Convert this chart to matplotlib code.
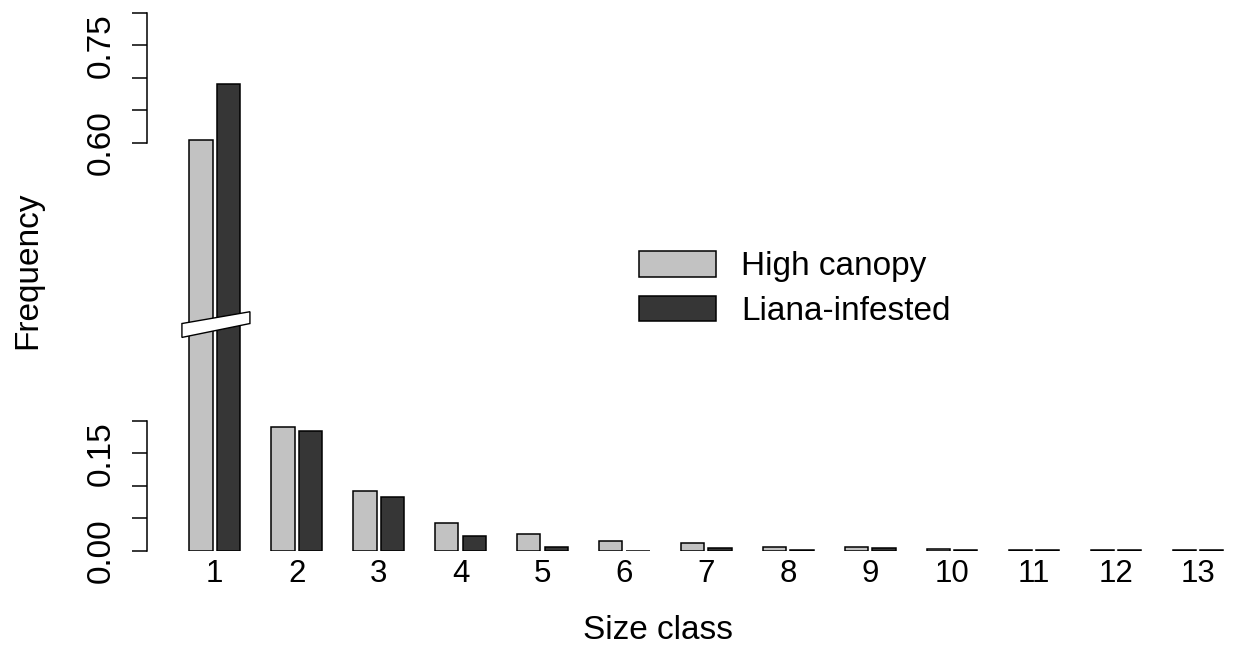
import numpy as np
import matplotlib
matplotlib.use("Agg")
import matplotlib.pyplot as plt
from matplotlib.patches import Polygon

plt.rcParams['font.family'] = ['Liberation Sans', 'DejaVu Sans']

# Datos
size_class = np.arange(1, 14)
high_canopy = [0.604, 0.190, 0.0925, 0.0425, 0.0256, 0.0153, 0.0127, 0.0066, 0.0066, 0.0035, 0.0008, 0.0008, 0.0008]
liana = [0.691, 0.1845, 0.083, 0.0235, 0.006, 0.0005, 0.004, 0.0008, 0.004, 0.001, 0.0008, 0.0008, 0.0008]
yticks_low = [0.0, 0.05, 0.10, 0.15, 0.20]
yticks_high = [0.60, 0.65, 0.70, 0.75, 0.80]
ylabels_shown = {0.0: "0.00", 0.15: "0.15", 0.60: "0.60", 0.75: "0.75"}

# Corte del eje (gap entre 0.2 y 0.6)
lo, hi, gap_disp = 0.2, 0.6, 0.4268


def fwd(v):
    v = np.asarray(v, dtype=float)
    return np.where(v <= lo, v,
                    np.where(v >= hi, v - hi + lo + gap_disp,
                             lo + (v - lo) * gap_disp / (hi - lo)))


def inv(d):
    d = np.asarray(d, dtype=float)
    return np.where(d <= lo, d,
                    np.where(d >= lo + gap_disp, d - lo - gap_disp + hi,
                             lo + (d - lo) * (hi - lo) / gap_disp))


W, H = 1235, 648
fig = plt.figure(figsize=(W / 100, H / 100), dpi=100)
left_px, right_px, top_px, bot_px = 147.3, 1232, 12.7, 551
ax = fig.add_axes([left_px / W, 1 - bot_px / H, (right_px - left_px) / W, (bot_px - top_px) / H])
ax.set_yscale('function', functions=(fwd, inv))

width = 0.284
off = 0.167
b1 = ax.bar(size_class - off, high_canopy, width, color='#c2c2c2', edgecolor='black', linewidth=1.1,
            label='High canopy', zorder=2)
b2 = ax.bar(size_class + off, liana, width, color='#363636', edgecolor='black', linewidth=1.1,
            label='Liana-infested', zorder=2)

ax.set_xlim(1 - (214.7 - left_px) / 81.94, 1 + (right_px - 214.7) / 81.94)
ax.set_ylim(0, 0.8)

# Eje y partido
ticks = yticks_low + yticks_high
ax.set_yticks(ticks)
ax.set_yticklabels([ylabels_shown.get(round(t, 2), "") for t in ticks], rotation=90, va='center')
ax.tick_params(axis='y', length=10.8, width=1.1, pad=11, labelsize=24)
ax.set_xticks(size_class)
ax.tick_params(axis='x', length=0, pad=6, labelsize=22.5)

for s in ['top', 'right', 'bottom']:
    ax.spines[s].set_visible(False)
ax.spines['left'].set_bounds(0, 0.2)
ax.spines['left'].set_linewidth(1.1)
ax.plot([0, 0], [hi, 0.8], color='black', linewidth=1.1, transform=ax.get_yaxis_transform(),
        clip_on=False)

# Marca del corte sobre la barra 1
brk = Polygon([[0.60, 0.320], [1.43, 0.340], [1.43, 0.357], [0.60, 0.340]], closed=True,
              facecolor='white', edgecolor='black', linewidth=1.0, zorder=4)
ax.add_patch(brk)

ax.legend(handles=[b1, b2], loc='upper left', bbox_to_anchor=(639.3 / W, 1 - 251 / H),
          bbox_transform=fig.transFigure, frameon=False, fontsize=24,
          handlelength=2.31, handleheight=0.81, handletextpad=0.75, labelspacing=0.4,
          borderpad=0, borderaxespad=0)

fig.text(28 / W, 1 - 270 / H, "Frequency", rotation=90, ha='center', va='center', fontsize=24)
fig.text(658 / W, 1 - 639 / H, "Size class", ha='center', va='baseline', fontsize=24)

fig.savefig("out.png", dpi=100)
